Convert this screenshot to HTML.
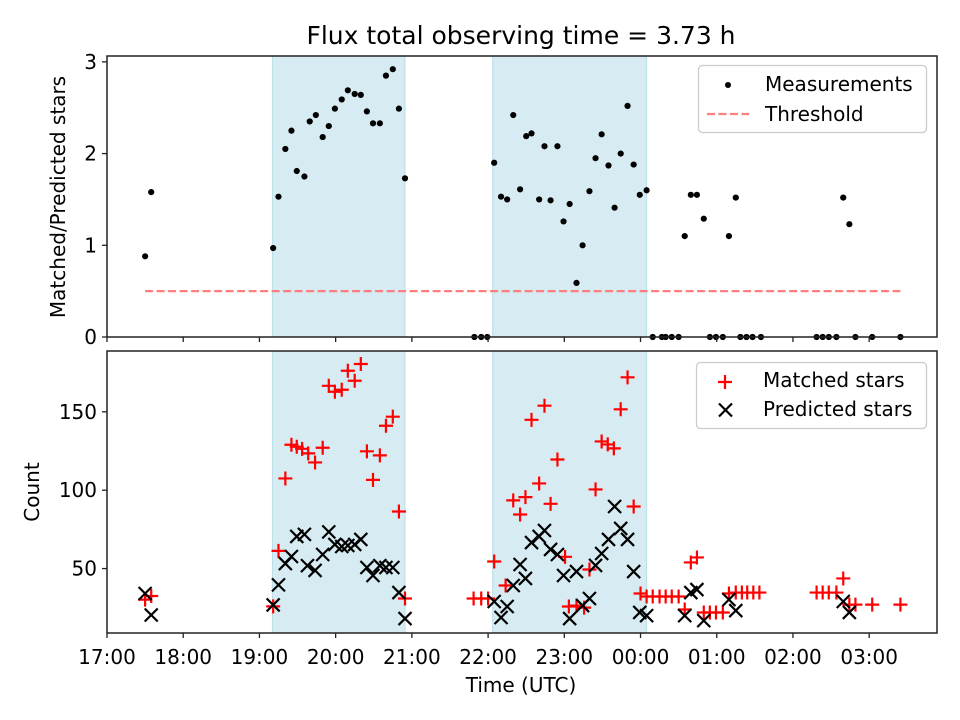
<!DOCTYPE html>
<html><head><meta charset="utf-8"><style>
body{margin:0;background:#fff}
svg{display:block;font-family:"DejaVu Sans","Liberation Sans",sans-serif}
</style></head><body>
<svg id="chart" width="960" height="720" xmlns="http://www.w3.org/2000/svg"></svg>
<script>
// ---- data ----
const shadedSessions = [[19.17, 20.91], [22.06, 24.08]];
const ratioTimes = [17.50,17.58,19.18,19.25,19.34,19.42,19.49,19.59,19.66,19.74,19.83,19.91,19.99,20.08,20.16,20.25,20.33,20.41,20.49,20.58,20.66,20.75,20.83,20.91,21.82,21.91,21.99,22.08,22.17,22.25,22.33,22.42,22.50,22.57,22.67,22.74,22.82,22.91,22.99,23.07,23.16,23.24,23.33,23.41,23.49,23.58,23.66,23.74,23.83,23.91,23.99,24.08,24.16,24.28,24.33,24.41,24.50,24.58,24.66,24.74,24.83,24.91,24.99,25.08,25.16,25.25,25.31,25.39,25.47,25.58,26.31,26.39,26.47,26.57,26.66,26.74,26.82,27.04,27.41];
const ratioValues = [0.88,1.58,0.97,1.53,2.05,2.25,1.81,1.75,2.35,2.42,2.18,2.30,2.49,2.59,2.69,2.65,2.64,2.46,2.33,2.33,2.85,2.92,2.49,1.73,0,0,0,1.90,1.53,1.50,2.42,1.61,2.19,2.22,1.50,2.08,1.49,2.08,1.26,1.45,0.59,1.00,1.59,1.95,2.21,1.87,1.41,2.00,2.52,1.88,1.55,1.60,0,0,0,0,0,1.10,1.55,1.55,1.29,0,0,0,1.10,1.52,0,0,0,0,0,0,0,0,1.52,1.23,0,0,0];
const threshold = 0.5;
const matchedTimes = [17.50,17.58,19.18,19.25,19.34,19.42,19.49,19.56,19.64,19.73,19.83,19.91,19.99,20.08,20.16,20.25,20.33,20.41,20.49,20.58,20.66,20.75,20.83,20.91,21.81,21.91,22.00,22.08,22.23,22.33,22.42,22.49,22.57,22.67,22.74,22.82,22.91,23.01,23.06,23.16,23.26,23.33,23.41,23.49,23.57,23.65,23.74,23.83,23.91,24.00,24.08,24.16,24.25,24.33,24.41,24.50,24.58,24.66,24.74,24.83,24.91,24.99,25.08,25.16,25.25,25.33,25.40,25.48,25.56,26.31,26.39,26.47,26.57,26.66,26.74,26.82,27.04,27.41];
const matchedValues = [30.2,32.5,25.9,61.3,107.5,129,127.7,126.4,123.5,117.7,127.1,166.6,162.8,164.1,176.2,169.8,180.5,124.8,106.6,122.2,141.1,146.9,86.4,30.9,30.9,30.9,30.9,54.5,39.2,93.5,84.5,95.6,144.9,104.3,153.9,91.3,119.6,57.5,25.8,26.4,25.1,49.4,100.5,131.1,129.2,126.7,151.6,172,89.6,34.1,32.2,32.2,32.2,32.2,32.2,32.2,23.9,53.9,57.1,22,22,22,22,34.1,34.7,34.7,34.7,34.7,34.7,34.7,34.7,34.7,34.7,43.7,27,27,27,27];
const predictedTimes = [17.50,17.58,19.18,19.25,19.34,19.42,19.49,19.59,19.63,19.73,19.83,19.91,19.99,20.08,20.16,20.25,20.33,20.41,20.49,20.58,20.66,20.75,20.83,20.91,22.08,22.17,22.25,22.33,22.42,22.49,22.57,22.67,22.74,22.82,22.91,22.99,23.07,23.16,23.24,23.33,23.41,23.49,23.58,23.66,23.74,23.83,23.91,23.99,24.08,24.58,24.66,24.74,24.83,25.16,25.25,26.66,26.74];
const predictedValues = [34.1,20.4,26.8,39.6,53.2,57.7,70.5,71.8,51.9,48.8,59,73.4,65.4,64.1,64.7,65.4,68.6,50.7,45.6,51.9,50.7,50.7,34.7,18.1,29,18.8,25.8,39.2,52.6,43.7,66.6,70.5,74.3,62.2,59,45.6,18.1,48.1,26.4,30.9,52,59.6,68.6,89.6,75.6,68.6,48.1,22,20,20,34.7,36.6,16.8,30.2,23.2,29,22];
const xTickHours = [17,18,19,20,21,22,23,24,25,26,27];
const xTickLabels = ["17:00","18:00","19:00","20:00","21:00","22:00","23:00","00:00","01:00","02:00","03:00"];
const topYTicks = [0,1,2,3];
const botYTicks = [50,100,150];

// ---- axes ----
const L=107, R=937, T1=56, B1=337, T2=351, B2=633;
const X0=17.0, X1=27.89;
const x = t => L + (t-X0)/(X1-X0)*(R-L);
const y1 = v => B1 - (v-0)/(3.064-0)*(B1-T1);
const y2 = v => B2 - (v-8.9)/(188.8-8.9)*(B2-T2);
const svg = document.getElementById('chart');
const NS='http://www.w3.org/2000/svg';
const FS='20px';
function mk(tag, attrs, parent){const e=document.createElementNS(NS,tag);for(const k in attrs)e.setAttribute(k,attrs[k]);(parent||svg).appendChild(e);return e;}

const title=mk('text',{x:521,y:44,'text-anchor':'middle','font-size':'25px'});
title.textContent='Flux total observing time = 3.73 h';



function panel(T,B,name){
  const g=mk('g',{});
  
  
  shadedSessions.forEach(s=>{
    const r=mk('rect',{x:x(s[0]),y:T,width:x(s[1])-x(s[0]),height:B-T,fill:'#add8e6','fill-opacity':0.5,stroke:'#add8e6','stroke-opacity':0.8},g);
    
    
  });
  return g;
}
const gTop=panel(T1,B1,'ratio-panel');
const gBot=panel(T2,B2,'count-panel');

const th=mk('line',{x1:x(ratioTimes[0]),x2:x(ratioTimes[ratioTimes.length-1]),y1:y1(threshold),y2:y1(threshold),stroke:'#ff7f7f','stroke-width':2.2,'stroke-dasharray':'8,3.5'},gTop);



ratioTimes.forEach((t,i)=>{
  const c=mk('circle',{cx:x(t),cy:y1(ratioValues[i]),r:3.1,fill:'#000'},gTop);
  
  
});
matchedTimes.forEach((t,i)=>{
  const cx=x(t), cy=y2(matchedValues[i]);
  const p=mk('path',{d:`M${cx-7},${cy}H${cx+7}M${cx},${cy-7}V${cy+7}`,stroke:'#f00','stroke-width':2.2,fill:'none'},gBot);
  
  
});
predictedTimes.forEach((t,i)=>{
  const cx=x(t), cy=y2(predictedValues[i]);
  const p=mk('path',{d:`M${cx-6.5},${cy-6.5}L${cx+6.5},${cy+6.5}M${cx-6.5},${cy+6.5}L${cx+6.5},${cy-6.5}`,stroke:'#000','stroke-width':2.2,fill:'none'},gBot);
  
  
});

[[T1,B1],[T2,B2]].forEach(([T,B])=>{
  const f=mk('rect',{x:L,y:T,width:R-L,height:B-T,fill:'none',stroke:'#222','stroke-width':1.5});
  
  
  xTickHours.forEach(h=>mk('line',{x1:x(h),x2:x(h),y1:B,y2:B+5,stroke:'#222','stroke-width':1.3}));
});
xTickHours.forEach((h,i)=>{
  const t=mk('text',{x:x(h),y:B2+31,'text-anchor':'middle','font-size':FS});
  t.textContent=xTickLabels[i];
  
  
});
topYTicks.forEach(v=>{
  mk('line',{x1:L-5,x2:L,y1:y1(v),y2:y1(v),stroke:'#222','stroke-width':1.3});
  const t=mk('text',{x:L-10,y:y1(v)+7,'text-anchor':'end','font-size':FS});t.textContent=v;
  
  
});
botYTicks.forEach(v=>{
  mk('line',{x1:L-5,x2:L,y1:y2(v),y2:y2(v),stroke:'#222','stroke-width':1.3});
  const t=mk('text',{x:L-10,y:y2(v)+7,'text-anchor':'end','font-size':FS});t.textContent=v;
  
  
});
</script>
<svg width="960" height="720" style="position:absolute;left:0;top:0" font-family="DejaVu Sans, Liberation Sans, sans-serif">
  <text x="521" y="692" text-anchor="middle" font-size="20px">Time (UTC)</text>
  <text transform="translate(65,197) rotate(-90)" text-anchor="middle" font-size="20px">Matched/Predicted stars</text>
  <text transform="translate(39,492) rotate(-90)" text-anchor="middle" font-size="20px">Count</text>
  <g>
    <rect x="698.5" y="65.5" width="228" height="67" rx="4" fill="#fff" fill-opacity="0.8" stroke="#ccc" stroke-width="1.3"/>
    <circle cx="728" cy="85" r="3" fill="#000"/>
    <text x="765" y="91" font-size="20px">Measurements</text>
    <line x1="707" x2="749" y1="114" y2="114" stroke="#ff7f7f" stroke-width="2.2" stroke-dasharray="8,3.5"/>
    <text x="765" y="121" font-size="20px">Threshold</text>
  </g>
  <g>
    <rect x="696.5" y="362.5" width="230" height="66" rx="4" fill="#fff" fill-opacity="0.8" stroke="#ccc" stroke-width="1.3"/>
    <path d="M718,382H732M725,375V389" stroke="#f00" stroke-width="2.2"/>
    <text x="763" y="387" font-size="20px">Matched stars</text>
    <path d="M719,403.5L732,416.5M719,416.5L732,403.5" stroke="#000" stroke-width="2.2"/>
    <text x="763" y="416" font-size="20px">Predicted stars</text>
  </g>
</svg>
</body></html>
